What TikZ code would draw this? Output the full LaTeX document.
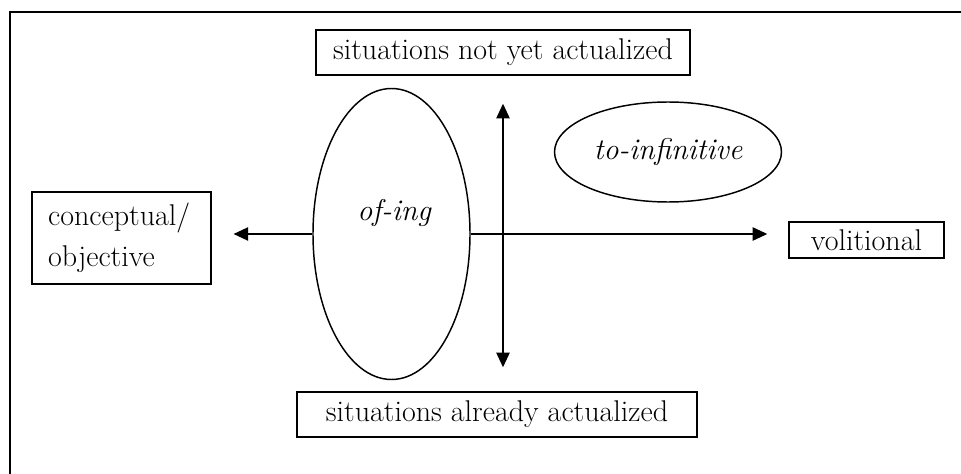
\documentclass[tikz,border=0pt]{standalone}
\usepackage{tikz}
\usetikzlibrary{arrows.meta,shapes.geometric}
\tikzset{
  lbox/.style={draw,line width=1.1pt,inner sep=0pt,align=center,font=\fontsize{22.5}{31}\selectfont},
  oval/.style={ellipse,draw,line width=1.1pt,inner sep=0pt,font=\fontsize{22.5}{31}\selectfont\itshape},
  arr/.style={-{Triangle[length=11pt,width=10pt]},line width=1.2pt},
  frame/.style={line width=1.6pt},
}
\begin{document}
\begin{tikzpicture}[x=0.75pt,y=-0.75pt]
  \useasboundingbox (0,0) rectangle (961,474);
  \draw[frame] (10,474) -- (10,12) -- (961,12);
  % boxes
  \node[lbox,minimum width=280.5pt,minimum height=33.75pt] (notyet) at (503,52.5) {situations not yet actualized};
  \node[lbox,minimum width=300pt,minimum height=33.75pt] (already) at (497,414.5) {situations already actualized};
  \node[lbox,align=left,text width=110pt,inner xsep=12pt,minimum height=69pt] (concept) at (121.5,238) {conceptual/\\objective};
  \node[lbox,minimum width=116.25pt,minimum height=27pt] (volit) at (866.5,240) {volitional};
  % ellipses
  \node[oval,minimum width=117.75pt,minimum height=218.25pt] (ofing) at (391.5,234) {};
  \node[font=\fontsize{22.5}{31}\selectfont\itshape] (ofingtxt) at (394,213) {of-ing};
  \node[oval,minimum width=170.25pt,minimum height=75pt] (toinf) at (668,152) {to-infinitive};
  % axes
  \coordinate (mid) at (503,235);
  \draw[arr,shorten >=16.5pt] (ofing.west) -- (ofing.west -| concept.east);
  \draw[arr,shorten >=15.75pt] (ofing.east) -- (ofing.east -| volit.west);
  \draw[arr,shorten >=21pt] (mid) -- (mid |- notyet.south);
  \draw[arr,shorten >=18pt] (mid) -- (mid |- already.north);
\end{tikzpicture}
\end{document}
